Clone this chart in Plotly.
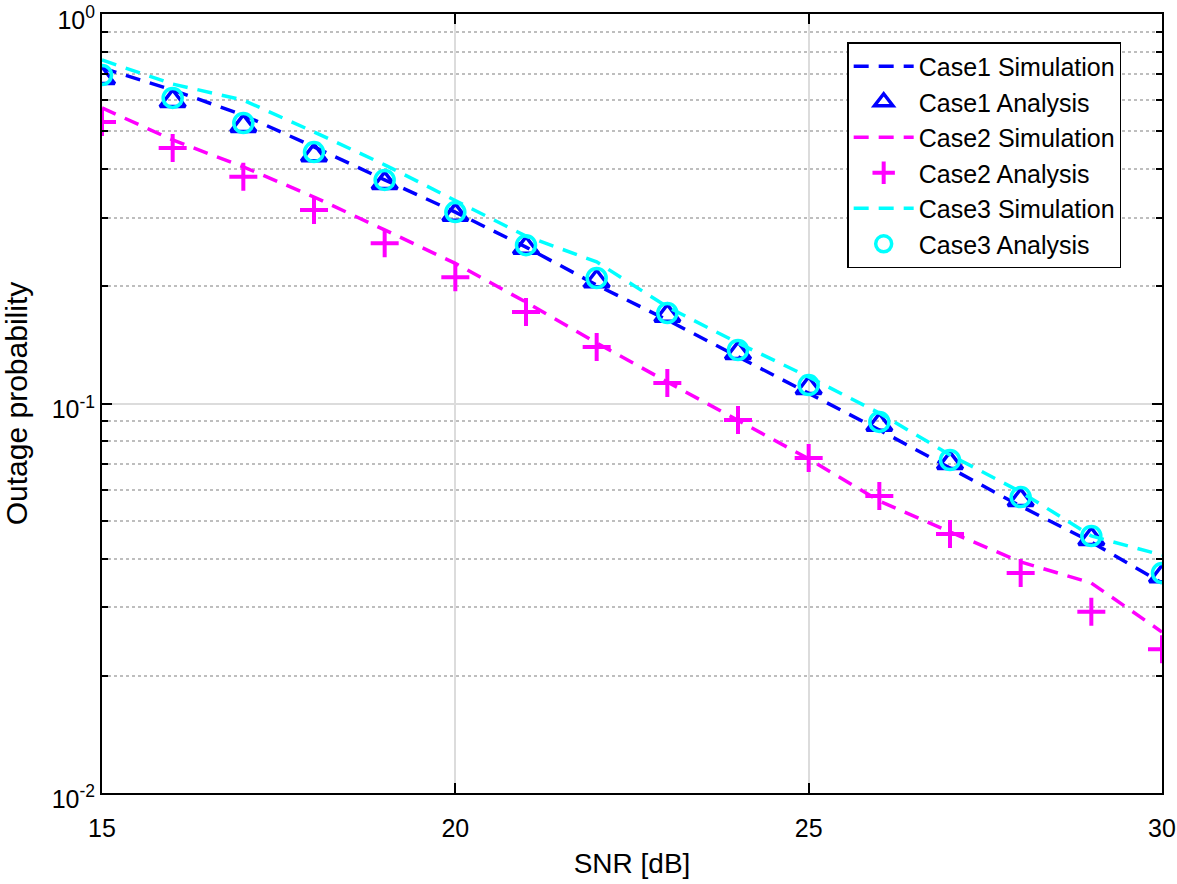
import plotly.graph_objects as go

snr = [15, 16, 17, 18, 19, 20, 21, 22, 23, 24, 25, 26, 27, 28, 29, 30]

case1_sim = [0.727, 0.638, 0.550, 0.456, 0.375, 0.310, 0.252, 0.2014, 0.1638, 0.1317,
             0.1064, 0.0855, 0.0683, 0.0545, 0.0441, 0.0346]
case1_ana = [0.685, 0.598, 0.516, 0.434, 0.368, 0.305, 0.251, 0.206, 0.168, 0.1347,
             0.1096, 0.0882, 0.0703, 0.0565, 0.0449, 0.0360]
case2_sim = [0.574, 0.475, 0.405, 0.339, 0.279, 0.229, 0.182, 0.143, 0.1136, 0.0907,
             0.0721, 0.0562, 0.0468, 0.0392, 0.0346, 0.0259]
case2_ana = [0.528, 0.453, 0.382, 0.314, 0.258, 0.211, 0.1717, 0.1397, 0.1129, 0.0907,
             0.0725, 0.0579, 0.0462, 0.0367, 0.0292, 0.0234]
case3_sim = [0.762, 0.661, 0.601, 0.498, 0.410, 0.333, 0.269, 0.231, 0.177, 0.143,
             0.117, 0.0945, 0.0738, 0.0593, 0.0457, 0.0408]
case3_ana = [0.697, 0.609, 0.525, 0.442, 0.375, 0.310, 0.255, 0.210, 0.1708, 0.1372,
             0.1115, 0.0897, 0.0716, 0.0575, 0.0457, 0.0367]

x_ticks = [15, 20, 25, 30]
y_tickvals = [0.01, 0.1, 1]
y_ticktext = ["10<sup>-2</sup>", "10<sup>-1</sup>", "10<sup>0</sup>"]
y_minor = [0.02, 0.03, 0.04, 0.05, 0.06, 0.07, 0.08, 0.09,
           0.2, 0.3, 0.4, 0.5, 0.6, 0.7, 0.8, 0.9]

BLUE = "#0000FF"
MAG = "#FF00FF"
CYAN = "#00FFFF"
DASH = "15px,10px"
FONT = "Liberation Sans, Arial, Helvetica, sans-serif"

fig = go.Figure()
fig.add_trace(go.Scatter(x=snr, y=case1_sim, mode="lines", name="Case1 Simulation",
                         line=dict(color=BLUE, width=3.5, dash=DASH)))
fig.add_trace(go.Scatter(x=snr, y=case1_ana, mode="markers", name="Case1 Analysis",
                         marker=dict(symbol="triangle-up-open", size=22, color=BLUE,
                                     line=dict(color=BLUE, width=3.5))))
fig.add_trace(go.Scatter(x=snr, y=case2_sim, mode="lines", name="Case2 Simulation",
                         line=dict(color=MAG, width=3.5, dash=DASH)))
fig.add_trace(go.Scatter(x=snr, y=case2_ana, mode="markers", name="Case2 Analysis",
                         marker=dict(symbol="cross-thin-open", size=20, color=MAG,
                                     line=dict(color=MAG, width=4))))
fig.add_trace(go.Scatter(x=snr, y=case3_sim, mode="lines", name="Case3 Simulation",
                         line=dict(color=CYAN, width=3.5, dash=DASH)))
fig.add_trace(go.Scatter(x=snr, y=case3_ana, mode="markers", name="Case3 Analysis",
                         marker=dict(symbol="circle-open", size=19, color=CYAN,
                                     line=dict(color=CYAN, width=3.5))))

fig.update_layout(
    width=1177, height=884,
    margin=dict(l=102, r=15, t=14, b=91, autoexpand=False),
    paper_bgcolor="white", plot_bgcolor="white",
    font=dict(family=FONT, size=25, color="black"),
    showlegend=True,
    legend=dict(x=0.703, y=0.964, xanchor="left", yanchor="top",
                bgcolor="white", bordercolor="black", borderwidth=1.5,
                font=dict(family=FONT, size=25, color="black"),
                itemwidth=60, tracegroupgap=0, itemsizing="trace"),
)

fig.update_xaxes(
    range=[15, 30], tickvals=x_ticks, ticktext=[str(v) for v in x_ticks],
    showline=True, linecolor="black", linewidth=2, mirror="ticks",
    ticks="inside", ticklen=10, tickwidth=1.5, tickcolor="black",
    showgrid=True, gridcolor="#DCDCDC", gridwidth=1.5, zeroline=False,
    title=dict(text="SNR [dB]", font=dict(size=28), standoff=12),
    tickfont=dict(size=25), ticklabeloverflow="allow", automargin=False,
    ticklabelstandoff=12,
)
fig.update_yaxes(
    type="log", range=[-2, 0], tickvals=y_tickvals, ticktext=y_ticktext,
    showline=True, linecolor="black", linewidth=2, mirror="ticks",
    ticks="inside", ticklen=10, tickwidth=1.5, tickcolor="black",
    showgrid=True, gridcolor="#DCDCDC", gridwidth=1.5, zeroline=False,
    minor=dict(tickmode="array", tickvals=y_minor,
               ticks="inside", ticklen=6, tickcolor="black", tickwidth=1.5,
               showgrid=True, gridcolor="#BEBEBE", griddash="dot", gridwidth=1.5),
    title=dict(text="Outage probability", font=dict(size=30), standoff=20),
    tickfont=dict(size=25), ticklabeloverflow="allow", automargin=False,
    ticklabelshift=6,
)

fig.write_html("out.html", config={"displayModeBar": False},
               post_script="document.body.style.margin='0';")
